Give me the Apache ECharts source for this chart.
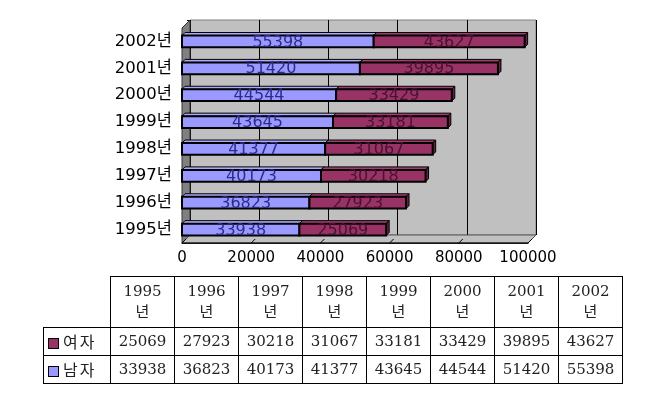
<!DOCTYPE html>
<html><head><meta charset="utf-8">
<script src="https://cdn.jsdelivr.net/npm/echarts@6/dist/echarts.min.js"></script>
<style>
html,body{margin:0;padding:0;background:#fff;}
#chart{position:absolute;left:0;top:0;width:667px;height:411px;}
#tbl{position:absolute;left:43px;top:276px;border-collapse:collapse;font-family:'DejaVu Serif','Noto Sans CJK KR',serif;font-size:15px;color:#222;table-layout:fixed;}
#tbl td{border:1px solid #000;text-align:center;padding:0;line-height:21px;}
#tbl td.corner{border:none;}
#tbl td.lab{text-align:left;padding-left:4px;font-family:'Noto Sans CJK KR',sans-serif;font-size:16px;white-space:nowrap;letter-spacing:2px;}
#tbl span.sq{display:inline-block;width:9px;height:9px;border:1px solid #000;margin-right:4px;vertical-align:-1px;}
</style></head>
<body><div id="chart"></div><table id="tbl"></table>
<script>
// ---- data ----
const categories = ['1995년','1996년','1997년','1998년','1999년','2000년','2001년','2002년'];
const tableHeads = ['1995','1996','1997','1998','1999','2000','2001','2002'];
const female = [25069, 27923, 30218, 31067, 33181, 33429, 39895, 43627];
const male = [33938, 36823, 40173, 41377, 43645, 44544, 51420, 55398];
const femaleName = '여자';
const maleName = '남자';
const xTicks = [0, 20000, 40000, 60000, 80000, 100000];

// ---- style / layout ----
const maleStyle = {fill:'#9999ff', top:'#aaaaff', side:'#6666cc', label:'#2c2c8c'};
const femaleStyle = {fill:'#993366', top:'#a33d70', side:'#662244', label:'#4a1230'};
const FRONT = {left:182, top:28, width:346, height:215};
const D = {dx:8, dy:-8};
const BACK = {left:FRONT.left + D.dx, top:FRONT.top + D.dy, width:FRONT.width, height:FRONT.height};
const fB = FRONT.top + FRONT.height, fR = FRONT.left + FRONT.width;
const bB = BACK.top + BACK.height, bR = BACK.left + BACK.width;

function makeRender(st){
  return function(params, api){
    const cat = api.value(2);
    const p0 = api.coord([api.value(0), cat]);
    const p1 = api.coord([api.value(1), cat]);
    const bw = api.size([0, 1])[1] * 0.44;
    const x0 = p0[0], x1 = p1[0];
    const y0 = p0[1] - bw / 2, y1 = p0[1] + bw / 2;
    const d = 3;
    return {type:'group', children:[
      {type:'polygon', shape:{points:[[x0,y0],[x0+d,y0-d],[x1+d,y0-d],[x1,y0]]}, style:{fill:st.top, stroke:'#000', lineWidth:1}},
      {type:'polygon', shape:{points:[[x1,y0],[x1+d,y0-d],[x1+d,y1-d],[x1,y1]]}, style:{fill:st.side, stroke:'#000', lineWidth:1}},
      {type:'rect', shape:{x:x0, y:y0, width:x1-x0, height:y1-y0}, style:{fill:st.fill, stroke:'#000', lineWidth:2}},
      {type:'text', style:{text:String(api.value(3)), x:(x0+x1)/2, y:(y0+y1)/2 + 1, align:'center', verticalAlign:'middle', font:'16px "DejaVu Sans"', fill:st.label}}
    ]};
  };
}

const maleData = male.map((v, i) => [0, v, i, v]);
const femaleData = female.map((v, i) => [male[i], male[i] + v, i, v]);

const floorTicks = xTicks.map(v => {
  const x = FRONT.left + v / xTicks[xTicks.length-1] * FRONT.width;
  return {type:'line', shape:{x1:x, y1:fB, x2:x+4, y2:fB-4}, style:{stroke:'#000', lineWidth:1}, z:5};
});

const chart = echarts.init(document.getElementById('chart'), null, {renderer:'canvas'});
chart.setOption({
  animation:false,
  backgroundColor:'#fff',
  grid:[
    {left:BACK.left, top:BACK.top, width:BACK.width, height:BACK.height, show:true, backgroundColor:'#c0c0c0', borderColor:'#808080', borderWidth:1, z:0},
    {left:FRONT.left, top:FRONT.top, width:FRONT.width, height:FRONT.height}
  ],
  xAxis:[
    {gridIndex:0, type:'value', min:0, max:100000, interval:20000, axisLabel:{show:false}, axisLine:{show:false}, axisTick:{show:false}, splitLine:{show:true, lineStyle:{color:'#000', width:1}}},
    {gridIndex:1, type:'value', min:0, max:100000, interval:20000, axisLine:{show:true, lineStyle:{color:'#000'}}, axisTick:{show:false}, splitLine:{show:false},
      axisLabel:{color:'#000', fontSize:15, fontFamily:'DejaVu Sans', margin:8, formatter:v => String(v)}}
  ],
  yAxis:[
    {gridIndex:0, type:'category', data:categories, axisLabel:{show:false}, axisLine:{show:false}, axisTick:{show:true, length:3, lineStyle:{color:'#000'}}, splitLine:{show:false}},
    {gridIndex:1, type:'category', data:categories, axisLine:{show:false}, axisTick:{show:false},
      axisLabel:{color:'#000', fontSize:16.5, fontFamily:'"DejaVu Sans","Noto Sans CJK KR"', margin:10}}
  ],
  graphic:[
    {type:'polygon', shape:{points:[[FRONT.left,FRONT.top],[BACK.left,BACK.top],[BACK.left,bB],[FRONT.left,fB]]}, style:{fill:'#808080', stroke:'#333', lineWidth:1}, z:1},
    {type:'polygon', shape:{points:[[FRONT.left,fB],[BACK.left,bB],[bR,bB],[fR,fB]]}, style:{fill:'#c0c0c0', stroke:'#555', lineWidth:1}, z:1},
    {type:'line', shape:{x1:FRONT.left, y1:fB, x2:fR, y2:fB}, style:{stroke:'#000', lineWidth:1}, z:5},
    ...floorTicks
  ],
  series:[
    {type:'custom', name:maleName, xAxisIndex:1, yAxisIndex:1, renderItem:makeRender(maleStyle), data:maleData, encode:{x:[0,1], y:2}, z:10, clip:false},
    {type:'custom', name:femaleName, xAxisIndex:1, yAxisIndex:1, renderItem:makeRender(femaleStyle), data:femaleData, encode:{x:[0,1], y:2}, z:11, clip:false}
  ]
});

// ---- data table ----
const tbl = document.getElementById('tbl');
let html = '<colgroup><col style="width:67px">' + tableHeads.map(() => '<col style="width:64px">').join('') + '</colgroup>';
html += '<tr style="height:51px"><td class="corner"></td>' + tableHeads.map(h => '<td>' + h + '<br>년</td>').join('') + '</tr>';
html += '<tr style="height:28px"><td class="lab"><span class="sq" style="background:' + femaleStyle.fill + '"></span>' + femaleName + '</td>' + female.map(v => '<td>' + v + '</td>').join('') + '</tr>';
html += '<tr style="height:28px"><td class="lab"><span class="sq" style="background:' + maleStyle.fill + '"></span>' + maleName + '</td>' + male.map(v => '<td>' + v + '</td>').join('') + '</tr>';
tbl.innerHTML = html;
</script>
</body></html>
